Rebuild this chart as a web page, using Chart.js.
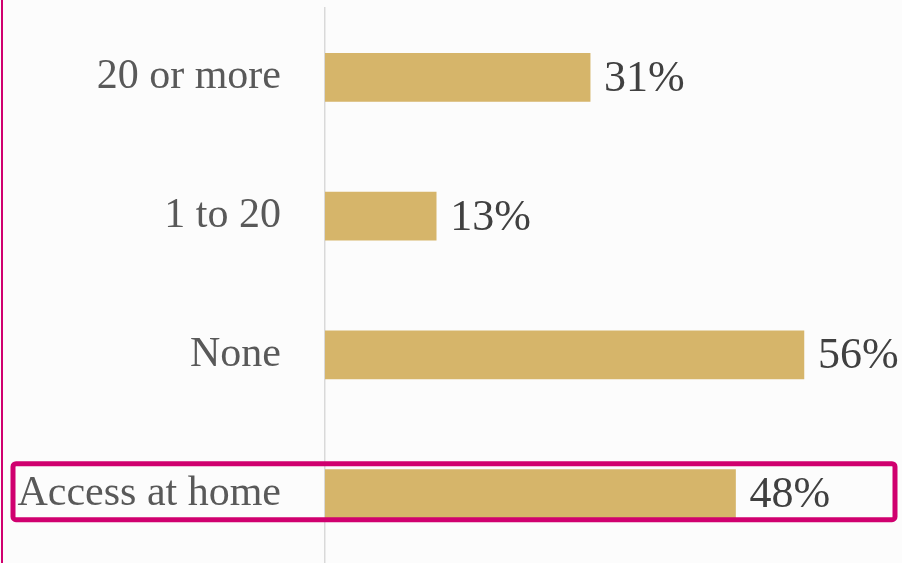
<!DOCTYPE html>
<html>
<head>
<meta charset="utf-8">
<script src="https://cdn.jsdelivr.net/npm/chart.js@4"></script>
<style>
  html, body { margin: 0; padding: 0; background: #fcfcfc; }
  #wrap { position: relative; width: 902px; height: 563px; }
</style>
</head>
<body>
<div id="wrap"><canvas id="chart"></canvas></div>
<script>
// Categories and values, top to bottom as shown
const categories = ['20 or more', '1 to 20', 'None', 'Access at home'];
const shares = [31, 13, 56, 48];
const highlighted = ['Access at home'];

const gold = '#d6b56a';
const magenta = '#d0006f';
const serif = '"Liberation Serif", "DejaVu Serif", serif';

// Draws the value labels, the highlight box and the left rule
const decorations = {
  id: 'decorations',
  afterDatasetsDraw(chart) {
    const ctx = chart.ctx;
    const meta = chart.getDatasetMeta(0);
    const yScale = chart.scales.y;
    const area = chart.chartArea;
    ctx.save();
    // value labels after each bar
    ctx.font = '44px ' + serif;
    ctx.fillStyle = '#404040';
    ctx.textAlign = 'left';
    ctx.textBaseline = 'middle';
    meta.data.forEach((bar, i) => {
      ctx.fillText(shares[i] + '%', bar.x + 14, bar.y + 2);
    });
    // box around highlighted rows
    ctx.strokeStyle = magenta;
    ctx.lineWidth = 5;
    highlighted.forEach(name => {
      const idx = categories.indexOf(name);
      const cy = yScale.getPixelForValue(idx);
      ctx.beginPath();
      ctx.roundRect(13, cy - 30, area.right - 16, 56, 3);
      ctx.stroke();
    });
    // thin rule at the left edge
    ctx.fillStyle = magenta;
    ctx.fillRect(1, 0, 2, chart.height);
    ctx.restore();
  }
};

new Chart(document.getElementById('chart'), {
  type: 'bar',
  data: {
    labels: categories,
    datasets: [{
      data: shares,
      backgroundColor: gold,
      borderWidth: 0,
      barThickness: 48
    }]
  },
  options: {
    indexAxis: 'y',
    responsive: true,
    maintainAspectRatio: false,
    animation: false,
    layout: { padding: { top: 8, right: 4, left: 0, bottom: 0 } },
    plugins: {
      legend: { display: false },
      tooltip: { enabled: false }
    },
    scales: {
      x: {
        display: false,
        min: 0,
        max: 67
      },
      y: {
        afterFit(scale) {
          scale.width = 325;
          scale.paddingTop = 0;
          scale.paddingBottom = 0;
        },
        grid: {
          display: true,
          drawOnChartArea: false,
          drawTicks: true,
          tickLength: 44,
          tickColor: 'rgba(0,0,0,0)'
        },
        border: { display: true, color: '#d9d9d9', width: 1.5 },
        ticks: {
          padding: 0,
          color: '#595959',
          font: { family: serif, size: 42 }
        }
      }
    }
  },
  plugins: [decorations]
});
</script>
</body>
</html>
